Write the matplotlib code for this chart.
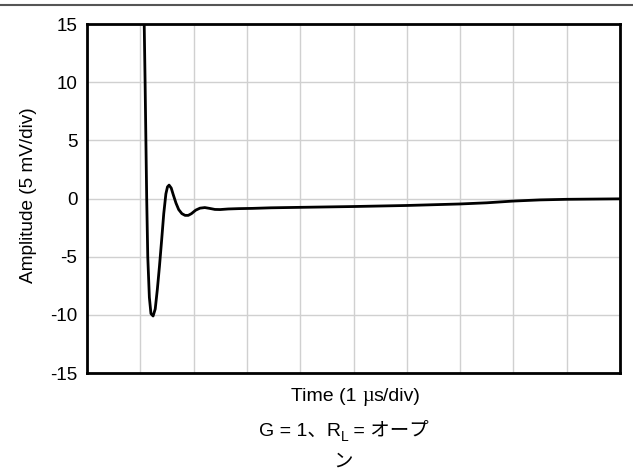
import matplotlib
matplotlib.use("Agg")
import matplotlib.pyplot as plt
from matplotlib.lines import Line2D

# ---- data (x in µs divisions, y in amplitude divisions) ----
t = [1.07, 1.09, 1.12, 1.14, 1.17, 1.20, 1.24, 1.28, 1.32, 1.36, 1.40, 1.44,
     1.48, 1.51, 1.54, 1.58, 1.62, 1.67, 1.72, 1.78, 1.84, 1.90, 1.96, 2.04,
     2.12, 2.21, 2.30, 2.40, 2.50, 2.65, 2.85, 3.1, 3.45, 4.0, 5.0, 6.0, 7.0,
     7.5, 8.0, 8.5, 9.0, 10.0]
amp = [16, 10, 0, -5, -8.5, -9.9, -10.1, -9.5, -7.8, -5.8, -3.6, -1.3,
       0.4, 1.0, 1.15, 0.9, 0.3, -0.4, -0.95, -1.3, -1.45, -1.45, -1.3, -1.0,
       -0.83, -0.78, -0.85, -0.94, -0.95, -0.9, -0.87, -0.85, -0.8, -0.76, -0.69, -0.6, -0.47,
       -0.37, -0.22, -0.12, -0.07, -0.03]
yticks = [-15, -10, -5, 0, 5, 10, 15]
ylabel = "Amplitude (5 mV/div)"

plt.rcParams['font.family'] = ['Liberation Sans', 'Noto Sans CJK JP', 'DejaVu Sans']

W, H = 633, 473
fig = plt.figure(figsize=(W / 100, H / 100), dpi=100)
ax = fig.add_axes([87 / W, 1 - 373 / H, (620 - 87) / W, (373 - 24) / H])

ax.plot(t, amp, color='black', lw=2, solid_joinstyle='round', clip_on=True)
ax.set_xlim(0, 10)
ax.set_ylim(-15, 15)
ax.set_xticks(range(0, 11))
ax.set_xticklabels([])
ax.set_yticks(yticks)
ax.set_yticklabels([str(v) for v in yticks], fontsize=13.5)
ax.tick_params(length=0, pad=7)
ax.grid(True, color='#d0d0d0', lw=1)
ax.set_axisbelow(True)
for s in ax.spines.values():
    s.set_linewidth(2)
    s.set_color('black')
ax.set_ylabel(ylabel, fontsize=13.7)
ax.yaxis.set_label_coords(37 / W, 1 - 195.5 / H, transform=fig.transFigure)

# top rule
fig.add_artist(Line2D([0, 1], [1 - 5.5 / H, 1 - 5.5 / H], color='#555555', lw=1.5,
                      transform=fig.transFigure))

renderer = fig.canvas.get_renderer()


def runs(cx, cy, parts):
    """Draw text runs centered at (cx, baseline cy) in pixel coords (from top)."""
    arts = []
    for txt, size, fam, dy in parts:
        a = fig.text(0, 0, txt, fontsize=size, family=fam, va='baseline', ha='left')
        arts.append((a, dy))
    widths = [a.get_window_extent(renderer).width for a, _ in arts]
    total = sum(widths)
    x = cx - total / 2
    for (a, dy), w in zip(arts, widths):
        a.set_position((x / W, 1 - (cy + dy) / H))
        x += w


sans = ['Liberation Sans', 'Noto Sans CJK JP']
serif = ['Liberation Serif', 'DejaVu Serif']
runs(356, 401, [("Time (1 ", 14, sans, 0), ("µ", 14.5, serif, 0), ("s/div)", 14, sans, 0)])
runs(344, 436, [("G = 1、R", 14, sans, 0), ("L", 10, sans, 5), (" = オープ", 14, sans, 0)])
runs(343, 467, [("ン", 14, sans, 0)])

fig.savefig("out.png", dpi=100)
